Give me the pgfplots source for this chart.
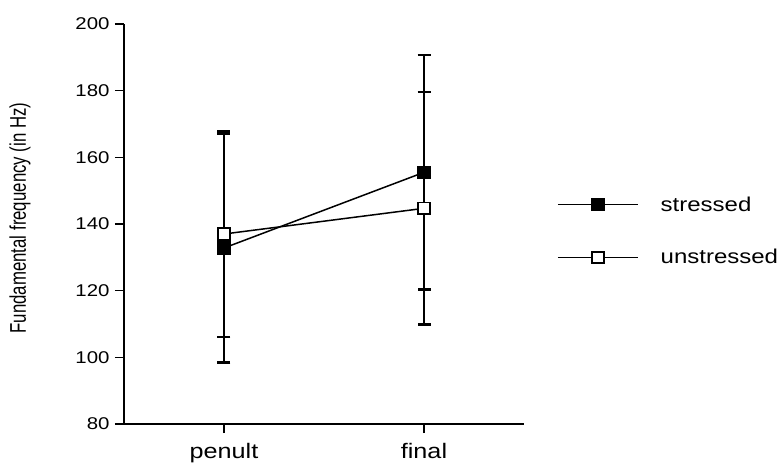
\documentclass[border=0pt]{standalone}
\usepackage{fontspec}
\setmainfont[FakeStretch=1.2]{Liberation Sans}
\newfontfamily\labelfont{Liberation Sans}
\usepackage{graphicx}
\usepackage{pgfplots}
\pgfplotsset{compat=1.18}
\begin{document}
\begin{tikzpicture}[x=1pt,y=1pt]
\useasboundingbox (-124,-40) rectangle (655,424);
\begin{axis}[
  at={(0,0)}, anchor=south west,
  scale only axis, width=400pt, height=400pt,
  xmin=-0.5, xmax=1.5, ymin=80, ymax=200,
  axis lines*=left, axis line style={line width=2pt, -},
  xtick={0,1}, xticklabels={penult,final},
  ytick={80,100,...,200},
  tick align=outside, major tick length=9pt,
  tick style={line width=1.5pt, black},
  /pgf/number format/assume math mode=true,
  yticklabel style={font=\fontsize{17}{20}\selectfont, xshift=-2pt},
  xticklabel style={font=\fontsize{21}{24}\selectfont, yshift=-7pt},
  ylabel={\scalebox{1}[1.35]{Fundamental frequency (in Hz)}},
  ylabel style={font=\labelfont\fontsize{16.8}{20}\selectfont, at={(axis description cs:-0.26,0.515)}, anchor=center},
  clip=false,
  legend cell align=left,
  legend style={draw=none, fill=none, at={(axis description cs:1.0825,0.4825)}, anchor=west,
    inner xsep=0pt, inner ysep=0pt, font=\fontsize{20}{24}\selectfont, row sep=33pt,
    /tikz/every odd column/.append style={column sep=20pt}},
  legend image code/.code={\draw[mark repeat=2, mark phase=2, #1] plot coordinates {(0pt,0pt) (40pt,0pt) (80pt,0pt)};},
  error bars/error bar style={line width=2pt, black},
  error bars/error mark options={rotate=90, mark size=6.5pt, line width=2.5pt, black},
]
\addplot[black, line width=1.5pt, mark=square*, mark size=5.8pt, mark options={fill=black, solid, line width=1.5pt},
  error bars/.cd, y dir=both, y explicit]
  coordinates {(0,132.8) +- (0,34.4) (1,155.5) +- (0,35.2)};
\addlegendentry{stressed}
\addplot[black, line width=1.5pt, mark=square*, mark size=5.8pt, mark options={fill=white, draw=black, solid, line width=1.8pt},
  error bars/.cd, y dir=both, y explicit]
  coordinates {(0,137.0) +- (0,30.9) (1,144.7) +- (0,34.9)};
\addlegendentry{unstressed}
\end{axis}
\end{tikzpicture}
\end{document}
